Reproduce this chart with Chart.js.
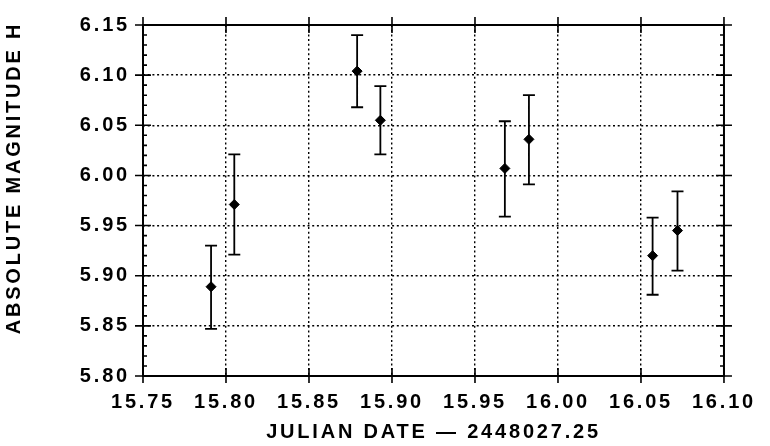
<!DOCTYPE html>
<html>
<head>
<meta charset="utf-8">
<script src="https://cdn.jsdelivr.net/npm/chart.js@4.4.1/dist/chart.umd.min.js"></script>
<style>html,body{margin:0;padding:0;background:#fff;}#wrap{width:770px;height:446px;}</style>
</head>
<body>
<div id="wrap"><canvas id="c" width="770" height="446"></canvas></div>
<script>
// ---- data ----
const julianDates = [15.791, 15.805, 15.879, 15.893, 15.968, 15.9825, 16.057, 16.072];
const magnitudes  = [5.889, 5.971, 6.104, 6.055, 6.007, 6.036, 5.920, 5.945];
const errUpper    = [5.930, 6.021, 6.140, 6.089, 6.054, 6.080, 5.958, 5.984];
const errLower    = [5.847, 5.921, 6.068, 6.021, 5.959, 5.991, 5.881, 5.905];
const xTickValues = [15.75, 15.80, 15.85, 15.90, 15.95, 16.00, 16.05, 16.10];
const yTickValues = [5.80, 5.85, 5.90, 5.95, 6.00, 6.05, 6.10, 6.15];
const xTitle = 'JULIAN DATE — 2448027.25';
const yTitle = 'ABSOLUTE MAGNITUDE H';

const FONT = {family: '"Liberation Sans", Arial, Helvetica, sans-serif', size: 20, weight: 'bold'};
const LS = '2.8px';

const spacingPlugin = {
  id: 'spacing',
  beforeUpdate(chart) { chart.ctx.letterSpacing = LS; },
  beforeLayout(chart) { chart.ctx.letterSpacing = LS; },
  beforeDraw(chart) { chart.ctx.letterSpacing = LS; }
};

const errorBarPlugin = {
  id: 'errorBars',
  beforeDatasetsDraw(chart) {
    const {ctx, scales: {x, y}} = chart;
    ctx.save();
    ctx.strokeStyle = '#000';
    ctx.lineWidth = 1.8;
    ctx.setLineDash([]);
    ctx.beginPath();
    for (let i = 0; i < julianDates.length; i++) {
      const px = x.getPixelForValue(julianDates[i]);
      const pHi = y.getPixelForValue(errUpper[i]);
      const pLo = y.getPixelForValue(errLower[i]);
      ctx.moveTo(px, pHi); ctx.lineTo(px, pLo);
      ctx.moveTo(px - 6, pHi); ctx.lineTo(px + 6, pHi);
      ctx.moveTo(px - 6, pLo); ctx.lineTo(px + 6, pLo);
    }
    ctx.stroke();
    ctx.restore();
  }
};

const framePlugin = {
  id: 'frame',
  afterDraw(chart) {
    const {ctx, chartArea: {left, right, top, bottom}, scales: {x, y}} = chart;
    ctx.save();
    ctx.setLineDash([]);
    ctx.strokeStyle = '#000';
    ctx.lineWidth = 2;
    ctx.strokeRect(left, top, right - left, bottom - top);
    ctx.lineWidth = 1.6;
    ctx.beginPath();
    x.ticks.forEach(t => {
      const px = x.getPixelForValue(t.value);
      ctx.moveTo(px, bottom - 8); ctx.lineTo(px, bottom + 7);
      ctx.moveTo(px, top - 8); ctx.lineTo(px, top + 8);
    });
    y.ticks.forEach(t => {
      const py = y.getPixelForValue(t.value);
      ctx.moveTo(left - 8, py); ctx.lineTo(left + 8, py);
      ctx.moveTo(right - 8, py); ctx.lineTo(right + 8, py);
    });
    for (let i = 1; i < yTickValues.length; i++) {
      const a = yTickValues[i - 1], b = yTickValues[i];
      for (let k = 1; k < 5; k++) {
        const py = y.getPixelForValue(a + (b - a) * k / 5);
        ctx.moveTo(left, py); ctx.lineTo(left + 4, py);
        ctx.moveTo(right - 4, py); ctx.lineTo(right, py);
      }
    }
    ctx.stroke();
    // y axis title (rotated)
    ctx.letterSpacing = LS;
    ctx.fillStyle = '#000';
    ctx.font = 'bold 20px "Liberation Sans", Arial, Helvetica, sans-serif';
    ctx.translate(14, 178);
    ctx.rotate(-Math.PI / 2);
    ctx.textAlign = 'center';
    ctx.textBaseline = 'middle';
    ctx.fillText(yTitle, 0, 0);
    ctx.restore();
  }
};

new Chart(document.getElementById('c'), {
  type: 'scatter',
  data: {
    datasets: [{
      data: julianDates.map((d, i) => ({x: d, y: magnitudes[i]})),
      pointStyle: 'rectRot',
      pointRadius: 5,
      pointBackgroundColor: '#000',
      pointBorderColor: '#000',
      pointBorderWidth: 1,
      showLine: false
    }]
  },
  options: {
    responsive: false,
    animation: false,
    events: [],
    layout: {padding: {top: 15, right: 37, left: 0, bottom: 0}},
    plugins: {legend: {display: false}, tooltip: {enabled: false}},
    scales: {
      x: {
        type: 'linear',
        min: xTickValues[0],
        max: xTickValues[xTickValues.length - 1],
        afterBuildTicks: s => { s.ticks = xTickValues.map(v => ({value: v})); },
        afterFit: s => { s.height = 70; },
        ticks: {callback: v => Number(v).toFixed(2), padding: 14, color: '#000', font: FONT, maxRotation: 0, autoSkip: false},
        grid: {color: '#000', lineWidth: 1.4, drawTicks: false},
        border: {display: false, dash: [2, 2.7]},
        title: {display: true, text: xTitle, color: '#000', font: FONT, padding: {top: 0, bottom: 2}}
      },
      y: {
        type: 'linear',
        min: yTickValues[0],
        max: yTickValues[yTickValues.length - 1],
        afterBuildTicks: s => { s.ticks = yTickValues.map(v => ({value: v})); },
        afterFit: s => { s.width = 143; },
        ticks: {callback: v => Number(v).toFixed(2), padding: 13, color: '#000', font: FONT, autoSkip: false},
        grid: {color: '#000', lineWidth: 1.4, drawTicks: false},
        border: {display: false, dash: [2, 2.7]},
        title: {display: false}
      }
    }
  },
  plugins: [spacingPlugin, errorBarPlugin, framePlugin]
});
</script>
</body>
</html>
